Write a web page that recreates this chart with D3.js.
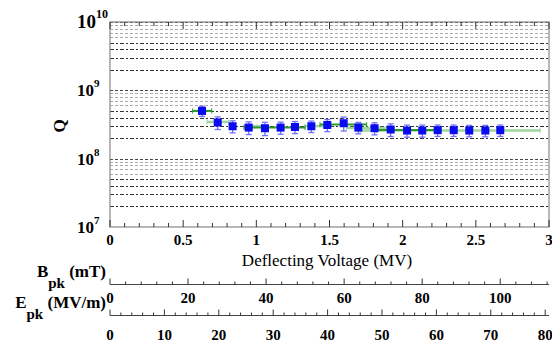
<!DOCTYPE html>
<html><head><meta charset="utf-8">
<script src="https://cdn.jsdelivr.net/npm/d3@7"></script>
<style>body{margin:0;background:#fff}svg{display:block}text{font-family:"Liberation Serif","Times New Roman",serif}</style>
</head><body>
<script>
// ---- data ----
const voltage = [0.629,0.736,0.838,0.948,1.059,1.166,1.264,1.376,1.485,1.597,1.697,1.808,1.918,2.030,2.134,2.239,2.349,2.455,2.565,2.667];
const qValues = [4.99e8,3.38e8,2.98e8,2.85e8,2.79e8,2.85e8,2.91e8,2.98e8,3.11e8,3.30e8,2.85e8,2.79e8,2.67e8,2.58e8,2.58e8,2.61e8,2.61e8,2.58e8,2.58e8,2.61e8];
const qErr    = [0.17,0.21,0.2,0.21,0.22,0.2,0.2,0.19,0.2,0.23,0.19,0.2,0.21,0.2,0.2,0.19,0.19,0.19,0.19,0.19];
// green series (horizontal voltage ranges)
const greenDarkLo = [0.565,0.916,1.435,1.822];
const greenDarkHi = [0.695,1.333,1.754,2.262];
const greenDarkQ  = [5.0e8,2.85e8,3.15e8,2.62e8];
const greenLightLo = [0.663,0.916,1.333,1.617,1.71];
const greenLightHi = [0.811,1.039,1.458,1.914,2.94];
const greenLightQ  = [3.45e8,3.0e8,3.0e8,2.8e8,2.58e8];
const xTicks = [0,0.5,1,1.5,2,2.5,3];
const xTickLabels = ["0","0.5","1","1.5","2","2.5","3"];
const yDecades = [1e7,1e8,1e9,1e10];
const yDecadeExp = ["7","8","9","10"];
const bTicks = [0,20,40,60,80,100];
const eTicks = [0,10,20,30,40,50,60,70,80];

const W=552,H=343;
const svg=d3.select("body").append("svg").attr("width",W).attr("height",H);
const x=d3.scaleLinear().domain([0,3]).range([110,549]);
const y=d3.scaleLog().domain([1e7,1e10]).range([227,22]);
const xB=d3.scaleLinear().domain([0,112.5]).range([110,549]);
const xE=d3.scaleLinear().domain([0,80.7]).range([110,549]);

// grid lines
const gridVals=[];
yDecades.slice(0,3).forEach(d=>{for(let k=1;k<=9;k++){gridVals.push({v:d*k,k});}});
gridVals.push({v:1e10,k:1});
svg.append("g").selectAll("line").data(gridVals.filter(g=>g.v>1e7)).join("line")
  .attr("x1",x(0)).attr("x2",x(3)).attr("y1",d=>Math.round(y(d.v))+0.5).attr("y2",d=>Math.round(y(d.v))+0.5)
  .attr("stroke",d=>d.k===1?"#444":(d.k<=5?"#333":"#aaa"))
  .attr("stroke-width",1)
  .attr("stroke-dasharray",d=>d.k===1?"3,2":(d.k<=5?"4,2,2,2":"3,2"));

// frame
svg.append("rect").attr("x",x(0)).attr("y",y(1e10)).attr("width",x(3)-x(0)).attr("height",y(1e7)-y(1e10))
  .attr("fill","none").attr("stroke","#888").attr("stroke-width",1.2);

// x ticks (bottom, pointing up; top, pointing down)
const xMinor=d3.range(0,3.001,0.1);
const tg=svg.append("g").attr("stroke","#333").attr("stroke-width",1);
xMinor.forEach(v=>{
  const major=Math.abs(v*2-Math.round(v*2))<1e-6;
  const len=major?7:4;
  tg.append("line").attr("x1",x(v)).attr("x2",x(v)).attr("y1",y(1e7)).attr("y2",y(1e7)-len);
  tg.append("line").attr("x1",x(v)).attr("x2",x(v)).attr("y1",y(1e10)).attr("y2",y(1e10)+len);
});
svg.append("g").selectAll("text").data(xTicks).join("text")
  .attr("x",d=>x(d)).attr("y",245).attr("text-anchor","middle")
  .attr("font-size",15).attr("font-weight","bold").text((d,i)=>xTickLabels[i]);

// y labels
const yl=svg.append("g").selectAll("text").data(yDecades).join("text")
  .attr("x",77).attr("y",d=>y(d)+6).attr("font-weight","bold").attr("font-size",(d,i)=>i===3?19:17);
yl.append("tspan").text("10");
yl.append("tspan").attr("dy",(d,i)=>i===3?-10:-9).attr("font-size",(d,i)=>i===3?12:11).text((d,i)=>yDecadeExp[i]);

svg.append("text").attr("transform","translate(65,126) rotate(-90)").attr("text-anchor","middle")
  .attr("font-size",17).attr("font-weight","bold").text("Q");
svg.append("text").attr("x",327).attr("y",266).attr("text-anchor","middle").attr("font-size",17).text("Deflecting Voltage (MV)");

// green series
function greenBars(lo,hi,q,color,width){
  const g=svg.append("g").attr("stroke",color);
  lo.forEach((l,i)=>{
    const yy=y(q[i]);
    g.append("line").attr("x1",x(l)).attr("x2",x(hi[i])).attr("y1",yy).attr("y2",yy).attr("stroke-width",width);
    [l,hi[i]].forEach(v=>g.append("line").attr("x1",x(v)).attr("x2",x(v)).attr("y1",yy-2.5).attr("y2",yy+2.5).attr("stroke-width",1));
  });
}
greenBars(greenLightLo,greenLightHi,greenLightQ,"#9ed69e",2.5);
greenBars(greenDarkLo,greenDarkHi,greenDarkQ,"#2a9a2a",2);

// blue points with error bars
const eg=svg.append("g").attr("stroke","#7070ff").attr("stroke-width",1.3);
voltage.forEach((v,i)=>{
  const cx=x(v),y1=y(qValues[i]*(1+qErr[i])),y2=y(qValues[i]*(1-qErr[i]));
  eg.append("line").attr("x1",cx).attr("x2",cx).attr("y1",y1).attr("y2",y2);
  eg.append("line").attr("x1",cx-3).attr("x2",cx+3).attr("y1",y1).attr("y2",y1);
  eg.append("line").attr("x1",cx-3).attr("x2",cx+3).attr("y1",y2).attr("y2",y2);
});
svg.append("g").selectAll("rect").data(voltage).join("rect")
  .attr("x",d=>x(d)-4).attr("y",(d,i)=>y(qValues[i])-4).attr("width",8).attr("height",8).attr("fill","#0a0af0");

// secondary axes
function secAxis(scale,yy,labels,step,domainMax,labelY){
  const g=svg.append("g");
  g.append("line").attr("x1",scale(0)).attr("x2",549).attr("y1",yy).attr("y2",yy).attr("stroke","#444").attr("stroke-width",1);
  d3.range(0,domainMax+1e-6,step/5).forEach(v=>{
    const major=Math.abs(v/step-Math.round(v/step))<1e-6;
    g.append("line").attr("x1",scale(v)).attr("x2",scale(v)).attr("y1",yy).attr("y2",yy-(major?6:3)).attr("stroke","#333");
  });
  g.selectAll("text").data(labels).join("text").attr("x",d=>scale(d)).attr("y",labelY)
    .attr("text-anchor","middle").attr("font-size",15).attr("font-weight","bold").text(d=>d);
}
secAxis(xB,284.5,bTicks,20,112.5,302.5);
secAxis(xE,315.5,eTicks,10,80.7,339.5);

function sideLabel(main,unit,yy){
  const t=svg.append("text").attr("x",106).attr("y",yy).attr("text-anchor","end").attr("font-weight","bold").attr("font-size",17);
  t.append("tspan").text(main);
  t.append("tspan").attr("dy",11).attr("font-size",15).text("pk");
  t.append("tspan").attr("dy",-11).text(" "+unit);
}
sideLabel("B","(mT)",277);
sideLabel("E","(MV/m)",308);
</script>
</body></html>
